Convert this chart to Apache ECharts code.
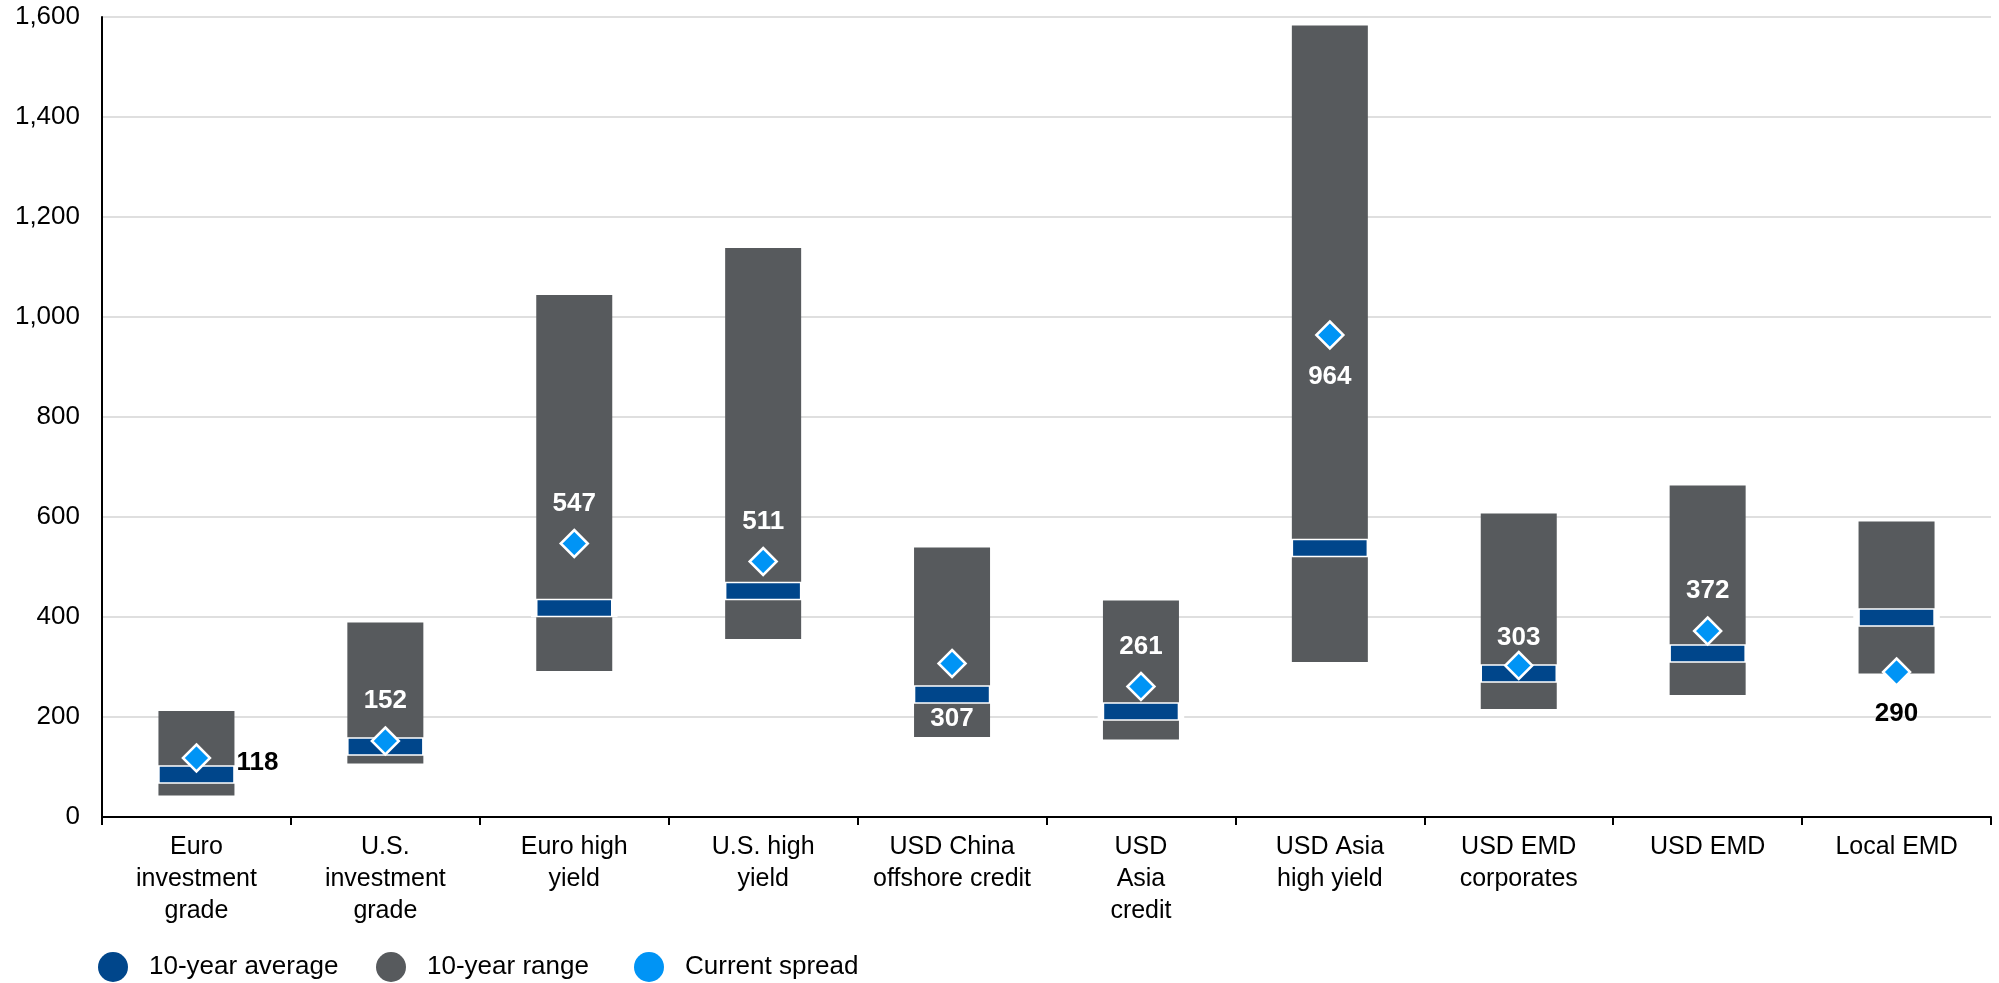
<!DOCTYPE html>
<html>
<head>
<meta charset="utf-8">
<script src="https://cdn.jsdelivr.net/npm/echarts@6/dist/echarts.min.js"></script>
<style>
  html, body { margin: 0; padding: 0; background: #ffffff; }
  #chart { width: 1999px; height: 983px; }
</style>
</head>
<body>
<div id="chart"></div>
<script>
// ---- Data ----
const categories = [
  "Euro\ninvestment\ngrade",
  "U.S.\ninvestment\ngrade",
  "Euro high\nyield",
  "U.S. high\nyield",
  "USD China\noffshore credit",
  "USD\nAsia\ncredit",
  "USD Asia\nhigh yield",
  "USD EMD\ncorporates",
  "USD EMD",
  "Local EMD"
];
const rangeLow  = [43, 107, 292, 356, 160, 155, 310, 216, 244, 287];
const rangeHigh = [212, 389, 1044, 1138, 539, 433, 1583, 607, 663, 591];
const tenYearAverage = [85, 141, 418, 452, 245, 211, 538, 287, 327, 399];
const currentSpread = [118, 152, 547, 511, 307, 261, 964, 303, 372, 290];
const yTicks = [0, 200, 400, 600, 800, 1000, 1200, 1400, 1600];

// ---- Layout of the value labels (pixel offsets from the diamond centre) ----
const labelOffsets = [[61, 5], [0, -40], [0, -40], [0, -40], [0, 55], [0, -40], [0, 42], [0, -28], [0, -40], [0, 42]];
const labelDark = [true, false, false, false, false, false, false, false, false, true];

const GREY = '#575A5D';
const NAVY = '#00468B';
const BLUE = '#0094F5';
const FONT = '"Liberation Sans", Arial, sans-serif';

const chart = echarts.init(document.getElementById('chart'));

const currentData = currentSpread.map((v, i) => ({
  value: v,
  label: {
    offset: labelOffsets[i],
    color: labelDark[i] ? '#000000' : '#ffffff'
  }
}));

const legendBase = {
  top: 952,
  padding: 0,
  icon: 'circle',
  itemWidth: 30,
  itemHeight: 30,
  itemStyle: { borderWidth: 0 },
  textStyle: { fontFamily: FONT, fontSize: 26, color: '#000', padding: [0, 0, 0, 16] },
  selectedMode: false
};

const option = {
  animation: false,
  backgroundColor: '#ffffff',
  grid: { left: 102, right: 8, top: 17, bottom: 166, containLabel: false },
  legend: [
    Object.assign({}, legendBase, { left: 98, data: ['10-year average'] }),
    Object.assign({}, legendBase, { left: 376, data: ['10-year range'] }),
    Object.assign({}, legendBase, { left: 634, data: ['Current spread'] })
  ],
  xAxis: {
    type: 'category',
    data: categories,
    boundaryGap: true,
    axisLine: { show: true, lineStyle: { color: '#000', width: 2 } },
    axisTick: { show: true, length: 8, lineStyle: { color: '#000', width: 2 } },
    axisLabel: {
      interval: 0,
      fontFamily: FONT,
      fontSize: 25,
      color: '#000',
      lineHeight: 32,
      margin: 14
    },
    splitLine: { show: false }
  },
  yAxis: {
    type: 'value',
    min: yTicks[0],
    max: yTicks[yTicks.length - 1],
    interval: 200,
    axisLine: { show: true, lineStyle: { color: '#000', width: 2 } },
    axisTick: { show: false },
    axisLabel: {
      fontFamily: FONT,
      fontSize: 26,
      color: '#000',
      margin: 22,
      formatter: v => v.toLocaleString('en-US')
    },
    splitLine: { show: true, lineStyle: { color: '#D4D4D4', width: 1.5 } }
  },
  series: [
    {
      name: 'base',
      type: 'bar',
      stack: 'range',
      barWidth: 76,
      data: rangeLow,
      itemStyle: { color: 'transparent' },
      silent: true,
      z: 1
    },
    {
      name: '10-year range',
      type: 'bar',
      stack: 'range',
      barWidth: 76,
      data: rangeHigh.map((h, i) => h - rangeLow[i]),
      itemStyle: { color: GREY },
      z: 1
    },
    {
      name: '10-year average',
      type: 'scatter',
      data: tenYearAverage,
      symbol: 'rect',
      symbolSize: [80, 17],
      itemStyle: { color: NAVY, borderColor: '#ffffff', borderWidth: 3, opacity: 1 },
      z: 3
    },
    {
      name: 'Current spread',
      type: 'scatter',
      data: currentData,
      symbol: 'diamond',
      symbolSize: 27,
      itemStyle: { color: BLUE, borderColor: '#ffffff', borderWidth: 2.5, opacity: 1 },
      label: {
        show: true,
        position: 'inside',
        fontFamily: FONT,
        fontSize: 26,
        fontWeight: 'bold'
      },
      z: 4
    }
  ]
};

chart.setOption(option);
</script>
</body>
</html>
